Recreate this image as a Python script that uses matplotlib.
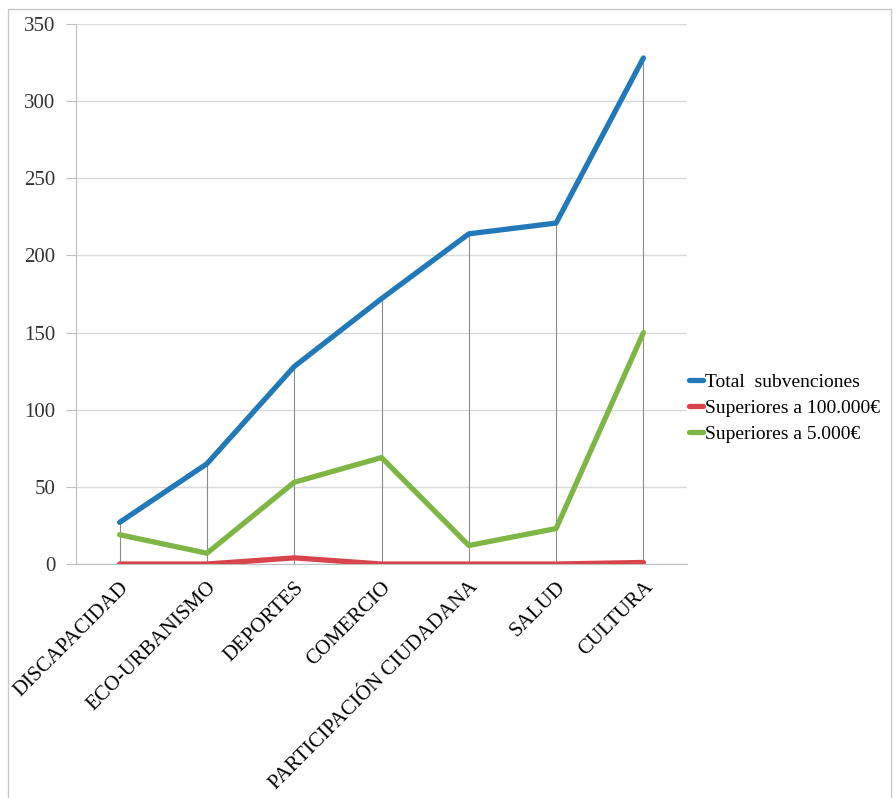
import matplotlib.pyplot as plt
from matplotlib.patches import Rectangle

# data
categorias = ['DISCAPACIDAD', 'ECO-URBANISMO', 'DEPORTES', 'COMERCIO',
              'PARTICIPACIÓN CIUDADANA', 'SALUD', 'CULTURA']
total = [27, 65, 128, 172, 214, 221, 328]
sup_100000 = [0, 0, 4, 0, 0, 0, 1]
sup_5000 = [19, 7, 53, 69, 12, 23, 150]

plt.rcParams['font.family'] = ['Liberation Serif', 'DejaVu Serif']

fig = plt.figure(figsize=(8.96, 7.98), dpi=100)
ax = fig.add_axes([0.0848, 0.2932, 0.682, 0.6767])

x = list(range(len(categorias)))

# drop lines from the top series to the axis
ax.vlines(x, 0, total, colors='#8c8c8c', linewidth=0.8, zorder=1)

ax.plot(x, total, color='#2179b9', linewidth=3.8, label='Total  subvenciones',
        solid_capstyle='round', zorder=3)
ax.plot(x, sup_100000, color='#d8434c', linewidth=3.8, label='Superiores a 100.000€',
        solid_capstyle='round', zorder=3)
ax.plot(x, sup_5000, color='#7db645', linewidth=3.8, label='Superiores a 5.000€',
        solid_capstyle='round', zorder=3)

ax.set_xlim(-0.5, len(categorias) - 0.5)
ax.set_ylim(0, 350)
ax.set_yticks(range(0, 351, 50))
ax.yaxis.grid(True, color='#d9d9d9', linewidth=1.0)
ax.set_axisbelow(True)

ax.set_xticks(x)
ax.set_xticklabels(categorias, rotation=45, ha='right', va='top',
                   rotation_mode='anchor', fontsize=15)
ax.tick_params(axis='x', length=0, pad=10)
ax.tick_params(axis='y', length=7, color='#bfbfbf', labelsize=15, pad=8,
               labelcolor='#333333')

for s in ['top', 'right']:
    ax.spines[s].set_visible(False)
ax.spines['left'].set_color('#bfbfbf')
ax.spines['bottom'].set_color('#bfbfbf')

ax.legend(loc='center left', bbox_to_anchor=(1.0, 0.289), frameon=False,
          fontsize=14, handlelength=0.7, handletextpad=0.1,
          labelspacing=0.42, borderaxespad=0.0, borderpad=0.1)

# outer frame of the chart
fig.patches.append(Rectangle((0.009, -0.01), 0.985, 0.999, transform=fig.transFigure,
                             fill=False, edgecolor='#c8c8c8', linewidth=1.0))

fig.savefig('out.png', dpi=100, facecolor='white')
